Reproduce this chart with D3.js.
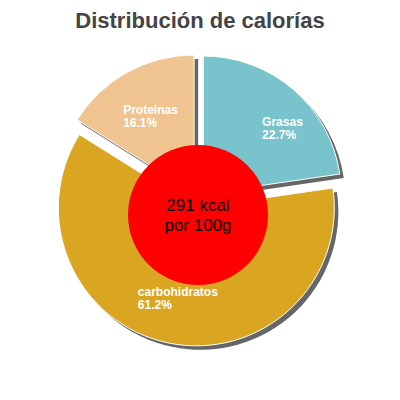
<!DOCTYPE html>
<html><head><meta charset="utf-8">
<script src="https://cdn.jsdelivr.net/npm/d3@7"></script>
<style>body{margin:0;background:#fff}text{font-family:"Liberation Sans",Arial,sans-serif}</style>
</head><body><div id="chart"></div>
<script>
var labels = ['Grasas', 'carbohidratos', 'Proteinas'];
var values = [22.7, 61.2, 16.1];
var colors = ['#79c4cc', '#daa520', '#efc490'];
var centerText = ['291 kcal', 'por 100g'];

var width = 400, height = 400;
var cx = 198, cy = 200, outer = 138, explode = 8;

var svg = d3.select('#chart').append('svg')
    .attr('width', width).attr('height', height);

svg.append('text')
    .attr('x', 200).attr('y', 28)
    .attr('text-anchor', 'middle')
    .attr('font-size', 22).attr('font-weight', 'bold')
    .attr('fill', '#444')
    .text('Distribución de calorías');

var pie = d3.pie().sort(null)(values);
var arc = d3.arc().innerRadius(0).outerRadius(outer);

// shadows first, then slices
pie.forEach(function(d){
    var mid = (d.startAngle + d.endAngle) / 2;
    var dx = explode * Math.sin(mid), dy = -explode * Math.cos(mid);
    svg.append('path')
        .attr('d', arc(d))
        .attr('fill', '#666')
        .attr('transform', 'translate(' + (cx + dx + 4) + ',' + (cy + dy + 4) + ')');
});
pie.forEach(function(d, i){
    var mid = (d.startAngle + d.endAngle) / 2;
    var dx = explode * Math.sin(mid), dy = -explode * Math.cos(mid);
    svg.append('path')
        .attr('d', arc(d))
        .attr('fill', colors[i])
        .attr('stroke', '#fff').attr('stroke-width', 1)
        .attr('transform', 'translate(' + (cx + dx) + ',' + (cy + dy) + ')');
});

// labels
pie.forEach(function(d, i){
    var mid = (d.startAngle + d.endAngle) / 2;
    var r = 98;
    var x = cx + r * Math.sin(mid), y = cy - r * Math.cos(mid);
    var g = svg.append('g');
    var t1 = g.append('text').attr('y', y).attr('font-size', 12).attr('font-weight', 'bold')
        .attr('fill', '#fff').text(labels[i]);
    var t2 = g.append('text').attr('y', y + 13).attr('font-size', 12).attr('font-weight', 'bold')
        .attr('fill', '#fff').text(values[i].toFixed(1) + '%');
    var w = t1.node().getComputedTextLength();
    var lx = Math.sin(mid) < 0 ? x - w / 2 : x;
    t1.attr('x', lx); t2.attr('x', lx);
});

svg.append('circle')
    .attr('cx', cx).attr('cy', 215).attr('r', 70)
    .attr('fill', '#ff0000');
svg.append('text')
    .attr('x', cx).attr('y', 211)
    .attr('text-anchor', 'middle').attr('font-size', 17)
    .text(centerText[0]);
svg.append('text')
    .attr('x', cx).attr('y', 231)
    .attr('text-anchor', 'middle').attr('font-size', 17)
    .text(centerText[1]);
</script></body></html>
